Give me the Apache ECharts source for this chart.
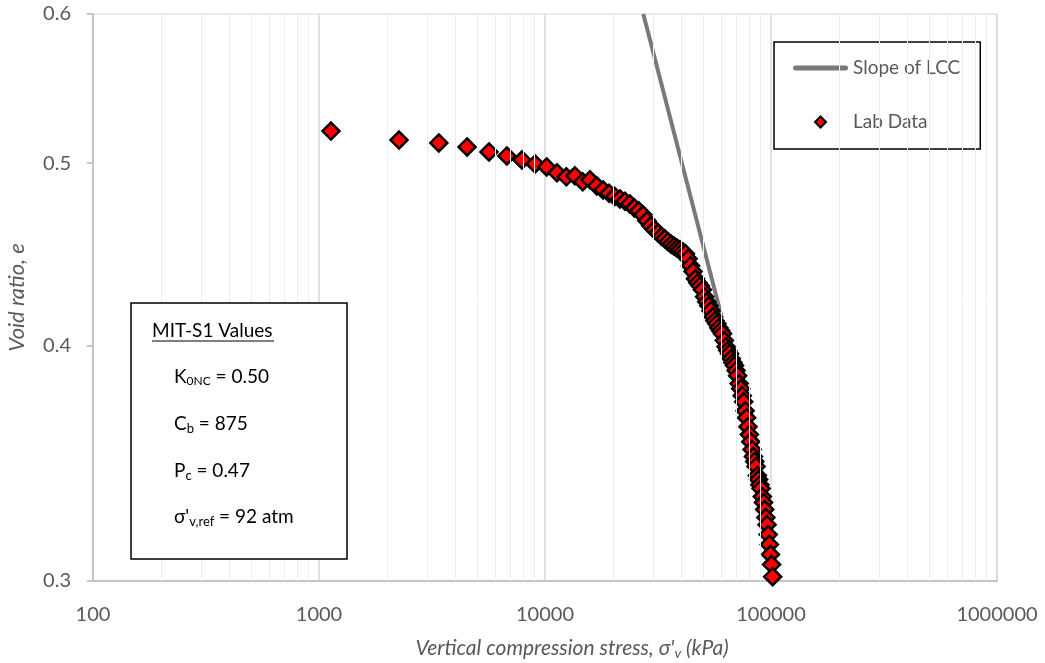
<!DOCTYPE html>
<html>
<head>
<meta charset="utf-8">
<script src="https://cdn.jsdelivr.net/npm/echarts@6/dist/echarts.min.js"></script>
<style>
html,body{margin:0;padding:0;background:#fff;}
#chart{width:1045px;height:663px;}
</style>
</head>
<body>
<div id="chart"></div>
<script>
// Lab data: vertical compression stress (kPa) and void ratio
const stress = [1130,2260,3390,4520,5650,6780,7910,9040,10170,11300,
  12430,13560,14690,15820,16950,18080,19210,20340,21470,22600,
  23730,24860,25990,27120,28250,29380,30510,31640,32770,33900,
  35030,36160,37290,38420,39550,40680,41810,42940,44070,45200,
  46330,47460,48590,49720,50850,51980,53110,54240,55370,56500,
  57630,58760,59890,61020,62150,63280,64410,65540,66670,67800,
  68930,70060,71190,72320,73450,74580,75710,76840,77970,79100,
  80230,81360,82490,83620,84750,85880,87010,88140,89270,90400,
  91530,92660,93790,94920,96050,97180,98310,99440,100570,101700];
const voidRatio = [0.5200,0.5143,0.5125,0.5100,0.5069,0.5044,0.5020,0.4995,0.4977,0.4941,
  0.4917,0.4923,0.4887,0.4899,0.4863,0.4839,0.4819,0.4801,0.4786,0.4772,
  0.4757,0.4734,0.4717,0.4694,0.4660,0.4631,0.4609,0.4592,0.4572,0.4558,
  0.4542,0.4528,0.4517,0.4506,0.4497,0.4487,0.4476,0.4449,0.4411,0.4379,
  0.4341,0.4320,0.4304,0.4283,0.4247,0.4221,0.4200,0.4175,0.4144,0.4124,
  0.4109,0.4089,0.4074,0.4059,0.4025,0.3995,0.3976,0.3961,0.3937,0.3918,
  0.3904,0.3880,0.3856,0.3819,0.3795,0.3763,0.3735,0.3694,0.3663,0.3623,
  0.3588,0.3557,0.3523,0.3493,0.3472,0.3451,0.3413,0.3396,0.3375,0.3359,
  0.3326,0.3302,0.3274,0.3242,0.3214,0.3175,0.3137,0.3099,0.3061,0.3016];
// Slope of LCC line
const lccStress = [27230, 60700];
const lccVoid = [0.6, 0.4136];
// Axis ticks
const yTicks = [0.3, 0.4, 0.5, 0.6];
const xMinorGrid = [200,300,400,500,600,700,800,900,
  2000,3000,4000,5000,6000,7000,8000,9000,
  20000,30000,40000,50000,60000,70000,80000,90000,
  200000,300000,400000,500000,600000,700000,800000,900000];

const FONT = 'Lato';
const LINE_ICON = 'path://M2.5,0 L52.5,0 A2.5,2.5 0 0 1 52.5,5 L2.5,5 A2.5,2.5 0 0 1 2.5,0 Z';
const DIAMOND_ICON = 'path://M6,0 L12,6 L6,12 L0,6 Z';
const chart = echarts.init(document.getElementById('chart'));
const option = {
  animation: false,
  backgroundColor: '#fff',
  grid: { left: 93, right: 48, top: 14, bottom: 82, outerBoundsMode: 'none', containLabel: false,
    show: true, borderColor: '#d6d6d6', borderWidth: 1, backgroundColor: 'transparent' },
  xAxis: {
    type: 'log', logBase: 10, min: 100, max: 1000000,
    name: "{i|Vertical compression stress, σ'}{s|v}{i| (kPa)}",
    nameLocation: 'middle', nameGap: 55,
    nameTextStyle: { padding: [0, 0, 0, 54], rich: {
      i: { fontFamily: FONT, fontStyle: 'italic', fontSize: 21, color: '#595959' },
      s: { fontFamily: FONT, fontStyle: 'italic', fontSize: 14, color: '#595959', padding: [10, 0, 0, 0] }
    } },
    axisLine: { show: true, lineStyle: { color: '#c4c4c4', width: 2 } },
    axisTick: { show: false },
    axisLabel: { color: '#595959', fontSize: 20, fontFamily: FONT, margin: 24, formatter: v => String(Math.round(v)) },
    splitLine: { show: true, lineStyle: { color: '#d9d9d9', width: 1.5 } },
    minorTick: { show: false }, minorSplitLine: { show: false }
  },
  yAxis: {
    type: 'log', logBase: 10, min: 0.3, max: 0.6,
    name: 'Void ratio, e', nameLocation: 'middle', nameGap: 65, nameRotate: 90,
    nameTextStyle: { fontFamily: FONT, fontStyle: 'italic', fontSize: 22, color: '#595959' },
    axisLine: { show: true, lineStyle: { color: '#c4c4c4', width: 2 } },
    axisTick: { show: true, length: 6, customValues: yTicks, lineStyle: { color: '#c4c4c4', width: 2 } },
    axisLabel: { customValues: yTicks, color: '#595959', fontSize: 20, fontFamily: FONT, margin: 22, formatter: v => Number(v).toFixed(1) },
    splitLine: { show: false }
  },
  legend: {
    data: [
      { name: 'Slope of LCC', icon: LINE_ICON },
      { name: 'Lab Data', icon: DIAMOND_ICON }
    ],
    orient: 'vertical', left: 774, top: 42, symbolKeepAspect: true,
    padding: [16, 20, 17, 19], itemGap: 34, itemWidth: 55, itemHeight: 11,
    borderColor: '#000', borderWidth: 1.5, backgroundColor: '#fff',
    textStyle: { color: '#595959', fontSize: 19, lineHeight: 20, fontFamily: FONT, width: 106 }
  },
  series: [
    {
      name: 'grid-minor', type: 'line', data: [], silent: true, z: 1,
      markLine: {
        silent: true, symbol: ['none', 'none'], label: { show: false }, animation: false,
        emphasis: { disabled: true },
        lineStyle: { color: '#ededed', width: 1, type: 'solid' },
        data: xMinorGrid.map(v => ({ xAxis: v }))
      }
    },
    {
      name: 'Slope of LCC', type: 'line', symbol: 'none', z: 3,
      lineStyle: { color: '#7b7878', width: 4 },
      itemStyle: { color: '#7b7878', borderWidth: 0 },
      data: lccStress.map((s, i) => [s, lccVoid[i]])
    },
    {
      name: 'Lab Data', type: 'scatter', symbol: 'diamond', symbolSize: 17, z: 4,
      itemStyle: { color: '#ff0000', borderColor: '#000', borderWidth: 2.5, opacity: 1 },
      data: stress.map((s, i) => [s, voidRatio[i]])
    }
  ],
  graphic: [
    { type: 'rect', z: 10, shape: { x: 131, y: 303, width: 216, height: 256 }, style: { fill: '#fff', stroke: '#000', lineWidth: 1.5 } },
    { type: 'text', z: 11, x: 152, y: 331, style: { text: 'MIT-S1 Values', fill: '#000', font: '19px Lato', verticalAlign: 'middle' } },
    { type: 'line', z: 11, shape: { x1: 152, y1: 341, x2: 274, y2: 341 }, style: { stroke: '#000', lineWidth: 1.2 } },
    { type: 'text', z: 11, x: 174, y: 377, style: { text: '{n|K}{s|0NC}{n| = 0.50}', verticalAlign: 'middle',
      rich: { n: { fill: '#000', font: '19px Lato', lineHeight: 22 }, s: { fill: '#000', font: '12px Lato', lineHeight: 12, verticalAlign: 'bottom', padding: [0,0,1,0] } } } },
    { type: 'text', z: 11, x: 174, y: 424, style: { text: '{n|C}{s|b}{n| = 875}', verticalAlign: 'middle',
      rich: { n: { fill: '#000', font: '19px Lato', lineHeight: 22 }, s: { fill: '#000', font: '13px Lato', lineHeight: 13, verticalAlign: 'bottom' } } } },
    { type: 'text', z: 11, x: 174, y: 471, style: { text: '{n|P}{s|c}{n| = 0.47}', verticalAlign: 'middle',
      rich: { n: { fill: '#000', font: '19px Lato', lineHeight: 22 }, s: { fill: '#000', font: '13px Lato', lineHeight: 13, verticalAlign: 'bottom' } } } },
    { type: 'text', z: 11, x: 174, y: 517, style: { text: "{n|σ'}{s|v,ref}{n| = 92 atm}", verticalAlign: 'middle',
      rich: { n: { fill: '#000', font: '19px Lato', lineHeight: 22 }, s: { fill: '#000', font: '13px Lato', lineHeight: 13, verticalAlign: 'bottom' } } } }
  ]
};
chart.setOption(option);
</script>
</body>
</html>
